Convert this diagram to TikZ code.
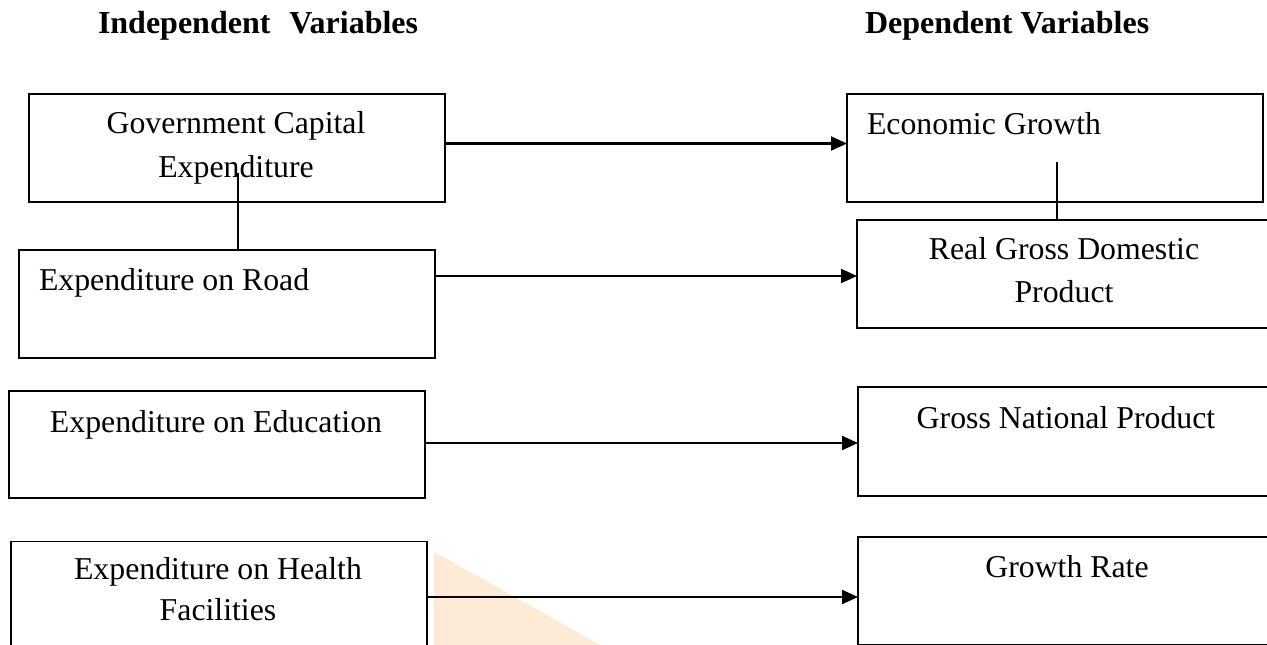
\documentclass[tikz,border=0pt]{standalone}
\usepackage{fontspec}
\setmainfont{Liberation Serif}
\usetikzlibrary{arrows.meta}
\definecolor{wmark}{HTML}{FDEBD7}
\tikzset{
  box/.style={draw, line width=1.4pt, inner sep=0pt, outer sep=0pt, minimum width=416pt},
  lbl/.style={inner sep=0pt, outer sep=0pt, font=\fontsize{31.8}{44}\selectfont},
  hdr/.style={inner sep=0pt, outer sep=0pt, font=\fontsize{32}{44}\selectfont\bfseries},
  arr/.style={line width=2.2pt, -{Triangle[length=16pt,width=14pt]}},
  link/.style={line width=1.4pt}
}
\begin{document}
\begin{tikzpicture}[x=1pt,y=-1pt]
\clip (0,0) rectangle (1267,645);
\fill[white] (0,0) rectangle (1267,645);
% watermark fragment
\fill[wmark] (434,553) -- (440,555) -- (600,645) -- (434,645) -- cycle;
% headers
\node[hdr, anchor=base west] (hind) at (98,33) {Independent\hspace{11pt} Variables};
\node[hdr, anchor=base west] (hdep) at (865,33) {Dependent Variables};
% boxes
\node[box, minimum height=108pt] (gce) at (237,148) {};
\node[box, minimum height=108pt] (road) at (227,304) {};
\node[box, minimum height=107pt] (edu) at (217,444.5) {};
\node[box, minimum height=108pt] (hea) at (219,595.5) {};
\node[box, minimum height=108pt] (eg) at (1055,148) {};
\node[box, minimum height=108pt] (rgdp) at (1065,274) {};
\node[box, minimum height=109pt] (gnp) at (1066,441.5) {};
\node[box, minimum height=108pt] (gr) at (1066,591) {};
% texts
\node[lbl, anchor=base] (t1) at (236,133) {Government Capital};
\node[lbl, anchor=base] (t2) at (236,177) {Expenditure};
\node[lbl, anchor=base west] (t3) at (39,290) {Expenditure on Road};
\node[lbl, anchor=base] (t4) at (216,432) {Expenditure on Education};
\node[lbl, anchor=base] (t5) at (218,579) {Expenditure on Health};
\node[lbl, anchor=base] (t6) at (218,620) {Facilities};
\node[lbl, anchor=base west] (t7) at (867,134) {Economic Growth};
\node[lbl, anchor=base] (t8) at (1064,259) {Real Gross Domestic};
\node[lbl, anchor=base] (t9) at (1064,302) {Product};
\node[lbl, anchor=base] (t10) at (1066,428) {Gross National Product};
\node[lbl, anchor=base] (t11) at (1067,577) {Growth Rate};
% vertical links
\coordinate (c1) at (238,173);
\coordinate (c2) at (1057,162);
\draw[link] (c1) -- (c1 |- road.north);
\draw[link] (c2) -- (c2 |- rgdp.north);
% arrows
\draw[arr] (gce.east |- 0,143.5) -- (eg.west |- 0,143.5);
\draw[arr] (road.east |- 0,276) -- (rgdp.west |- 0,276);
\draw[arr] (edu.east |- 0,443) -- (gnp.west |- 0,443);
\draw[arr] (hea.east |- 0,597) -- (gr.west |- 0,597);
\end{tikzpicture}
\end{document}
